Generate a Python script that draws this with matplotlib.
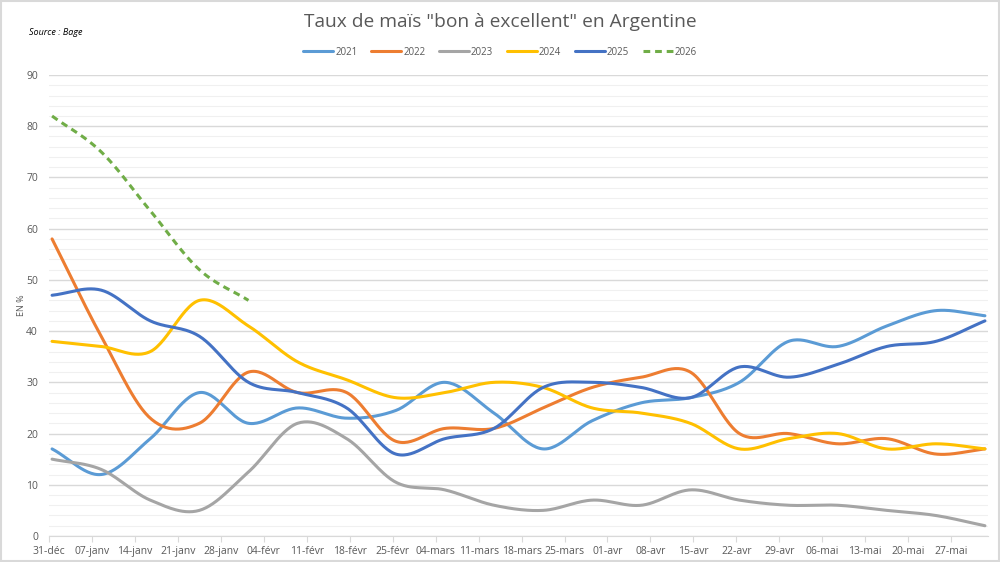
import numpy as np
import matplotlib
matplotlib.use("Agg")
import matplotlib.pyplot as plt
from matplotlib.patches import Rectangle

# days after 31 Dec for each report
days = [0, 8, 16, 24, 32, 40, 48, 56, 64, 72, 80, 88, 96, 104, 112, 120, 128, 136, 144, 152]

y2021 = [17, 12, 19, 28, 22, 25, 23, 24.5, 30, 24, 17, 22.5, 26, 27, 30, 38, 37, 41, 44, 43]
y2022 = [58, 39, 23, 22, 32, 28, 28, 18.5, 21, 21, 25, 29, 31, 32, 20, 20, 18, 19, 16, 17]
y2023 = [15, 13, 7, 5, 12.5, 22, 19, 10.5, 9, 6, 5, 7, 6, 9, 7, 6, 6, 5, 4, 2]
y2024 = [38, 37, 36, 46, 41, 34, 30.5, 27, 28, 30, 29, 25, 24, 22, 17, 19, 20, 17, 18, 17]
y2025 = [47, 48, 42, 39, 30, 28, 25, 16, 19, 21, 29, 30, 29, 27, 33, 31, 33.5, 37, 38, 42]
y2026 = [82, 75, 63.5, 52, 46]

tick_labels = ["31-déc", "07-janv", "14-janv", "21-janv", "28-janv", "04-févr", "11-févr",
               "18-févr", "25-févr", "04-mars", "11-mars", "18-mars", "25-mars", "01-avr",
               "08-avr", "15-avr", "22-avr", "29-avr", "06-mai", "13-mai", "20-mai", "27-mai"]

series = [("2021", y2021, "#5B9BD5", "-"),
          ("2022", y2022, "#ED7D31", "-"),
          ("2023", y2023, "#A5A5A5", "-"),
          ("2024", y2024, "#FFC000", "-"),
          ("2025", y2025, "#4472C4", "-"),
          ("2026", y2026, "#70AD47", (0, (2.2, 1.6)))]


def smooth(x, y, n=30):
    # catmull-rom curve through the points, close to excel's smoothed lines
    x = np.asarray(x, float)
    y = np.asarray(y, float)
    px = np.concatenate([[2 * x[0] - x[1]], x, [2 * x[-1] - x[-2]]])
    py = np.concatenate([[2 * y[0] - y[1]], y, [2 * y[-1] - y[-2]]])
    xs, ys = [], []
    t = np.linspace(0, 1, n)
    for i in range(1, len(px) - 2):
        for p, out in ((px, xs), (py, ys)):
            p0, p1, p2, p3 = p[i - 1], p[i], p[i + 1], p[i + 2]
            out.extend(0.5 * (2 * p1 + (-p0 + p2) * t + (2 * p0 - 5 * p1 + 4 * p2 - p3) * t ** 2
                              + (-p0 + 3 * p1 - 3 * p2 + p3) * t ** 3))
    return np.array(xs), np.array(ys)


plt.rcParams['font.family'] = ['Open Sans', 'DejaVu Sans']
grey = "#595959"

fig = plt.figure(figsize=(10, 5.62), dpi=100)
ax = fig.add_axes([0.049, 0.0463, 0.939, 0.8202])

for name, vals, color, ls in series:
    sx, sy = smooth(days[:len(vals)], vals)
    ax.plot(sx, sy, color=color, lw=2.2, ls=ls, label=name, solid_capstyle='round')

ax.set_xlim(-0.5, 152.5)
ax.set_ylim(0, 90)
ax.set_yticks(np.arange(0, 91, 10))
ax.set_yticks(np.arange(0, 91, 2), minor=True)
ax.grid(axis='y', which='major', color='#d9d9d9', lw=1)
ax.grid(axis='y', which='minor', color='#f0f0f0', lw=0.8)
ax.set_axisbelow(True)

ax.set_xticks(np.arange(len(tick_labels)) * 7 - 0.5)
ax.set_xticklabels(tick_labels)
ax.tick_params(axis='x', colors='#d9d9d9', labelcolor=grey, labelsize=7.5, length=4, pad=3)
ax.tick_params(axis='y', which='both', length=0, labelcolor=grey, labelsize=7.5, pad=8)

for s in ['top', 'right', 'left']:
    ax.spines[s].set_visible(False)
ax.spines['bottom'].set_color('#d9d9d9')

ax.set_ylabel("EN %", fontsize=6.5, color=grey, labelpad=0)

fig.text(0.5, 0.96, 'Taux de maïs "bon à excellent" en Argentine', ha='center', va='center',
         fontsize=13.8, color=grey)
fig.text(0.029, 0.943, "Source : Bage", fontsize=6.5, style='italic', color='black', va='center')

fig.legend(loc='center', bbox_to_anchor=(0.5, 0.907), ncol=6, frameon=False, fontsize=7,
           handlelength=3.1, columnspacing=1.4, handletextpad=0.2, labelcolor=grey)

fig.patches.append(Rectangle((0.001, 0.001), 0.998, 0.997, transform=fig.transFigure,
                             fill=False, edgecolor='#d9d9d9', lw=1.5))

fig.savefig("out.png", dpi=100)
